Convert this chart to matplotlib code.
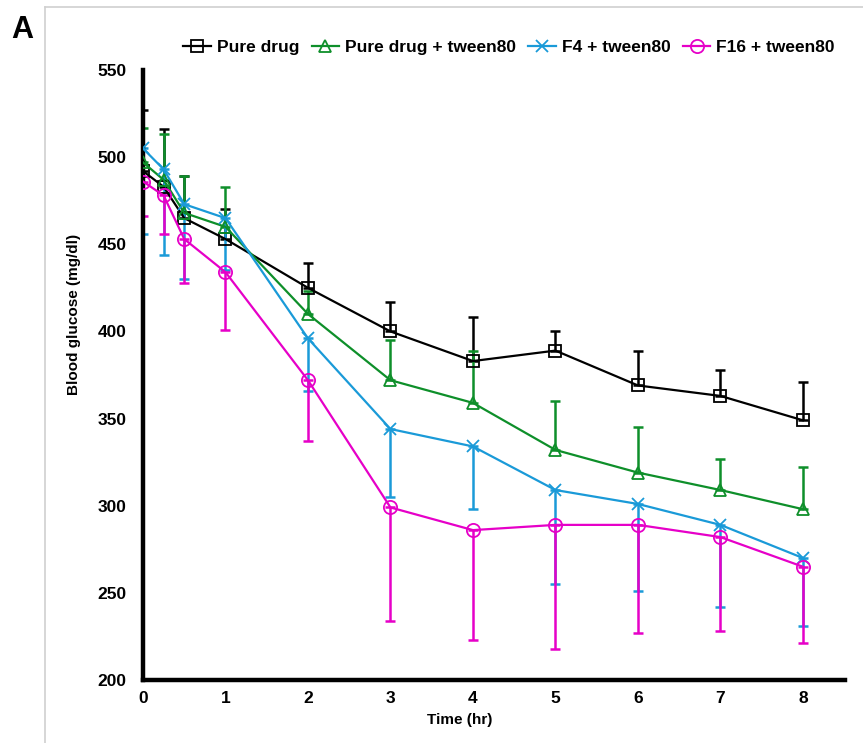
import matplotlib
matplotlib.use("Agg")
import matplotlib.pyplot as plt
from matplotlib.lines import Line2D

plt.rcParams['font.family'] = ['Liberation Sans', 'DejaVu Sans']

time_hr = [0, 0.25, 0.5, 1, 2, 3, 4, 5, 6, 7, 8]

pure_drug = [492, 483, 465, 453, 425, 400, 383, 389, 369, 363, 349]
pure_drug_err_up = [35, 33, 24, 17, 14, 17, 25, 11, 20, 15, 22]

pure_tween = [497, 487, 468, 460, 410, 372, 359, 332, 319, 309, 298]
pure_tween_err_up = [20, 26, 21, 23, 13, 23, 30, 28, 26, 18, 24]

f4_tween = [505, 493, 473, 465, 396, 344, 334, 309, 301, 289, 270]
f4_tween_err_down = [49, 49, 43, 30, 30, 39, 36, 54, 50, 47, 39]

f16_tween = [486, 478, 453, 434, 372, 299, 286, 289, 289, 282, 265]
f16_tween_err_down = [20, 22, 25, 33, 35, 65, 63, 71, 62, 54, 44]

series = [
    ("Pure drug", pure_drug, [[0] * len(pure_drug), pure_drug_err_up], "black", "s", 9),
    ("Pure drug + tween80", pure_tween, [[0] * len(pure_tween), pure_tween_err_up], "#0E8F2A", "^", 9),
    ("F4 + tween80", f4_tween, [f4_tween_err_down, [0] * len(f4_tween)], "#1A9AD8", "x", 9),
    ("F16 + tween80", f16_tween, [f16_tween_err_down, [0] * len(f16_tween)], "#E600C8", "o", 9.5),
]

fig = plt.figure(figsize=(8.63, 7.43), dpi=100)
ax = fig.add_axes([143 / 863, 1 - 680 / 743, (845 - 143) / 863, (680 - 70) / 743])

handles = []
for label, vals, err, color, marker, ms in series:
    ax.errorbar(time_hr, vals, yerr=err, fmt='none', ecolor=color, elinewidth=1.8,
                capsize=3.5, capthick=1.8, zorder=2)
    ln, = ax.plot(time_hr, vals, color=color, lw=1.6, marker=marker, ms=ms,
                  mfc='none', mec=color, mew=1.3, label=label, zorder=3)
    handles.append(ln)

ax.set_xlim(0, 8.51)
ax.set_ylim(200, 550)
ax.set_xticks(range(0, 9))
ax.set_yticks(range(200, 551, 50))
for s in ('top', 'right'):
    ax.spines[s].set_visible(False)
for s in ('left', 'bottom'):
    ax.spines[s].set_linewidth(3.2)
    ax.spines[s].set_color('black')
ax.tick_params(axis='both', length=0, labelsize=12.5)
ax.tick_params(axis='y', pad=12)
ax.tick_params(axis='x', pad=8)
for t in ax.get_xticklabels() + ax.get_yticklabels():
    t.set_fontweight('bold')

fig.text(460 / 863, 1 - 720 / 743, "Time (hr)", ha='center', va='center',
         fontsize=11, fontweight='bold')
fig.text(74 / 863, 1 - 314 / 743, "Blood glucose (mg/dl)", ha='center', va='center',
         rotation=90, fontsize=11, fontweight='bold')
fig.text(22 / 863, 1 - 30 / 743, "A", ha='center', va='center',
         fontsize=22, fontweight='bold')

fig.legend(handles=handles, loc='center', bbox_to_anchor=(509 / 863, 1 - 47 / 743),
           ncol=4, frameon=False, handlelength=1.6, handletextpad=0.33,
           columnspacing=0.7, prop={'weight': 'bold', 'size': 12.5}, numpoints=1,
           borderpad=0.2)

# light panel frame along the top and left edges
fig.add_artist(Line2D([45 / 863, 1.0], [1 - 7 / 743, 1 - 7 / 743],
                      transform=fig.transFigure, color='#D0D0D0', lw=1.2))
fig.add_artist(Line2D([45 / 863, 45 / 863], [0.0, 1 - 7 / 743],
                      transform=fig.transFigure, color='#D0D0D0', lw=1.2))

fig.savefig("out.png", dpi=100)
